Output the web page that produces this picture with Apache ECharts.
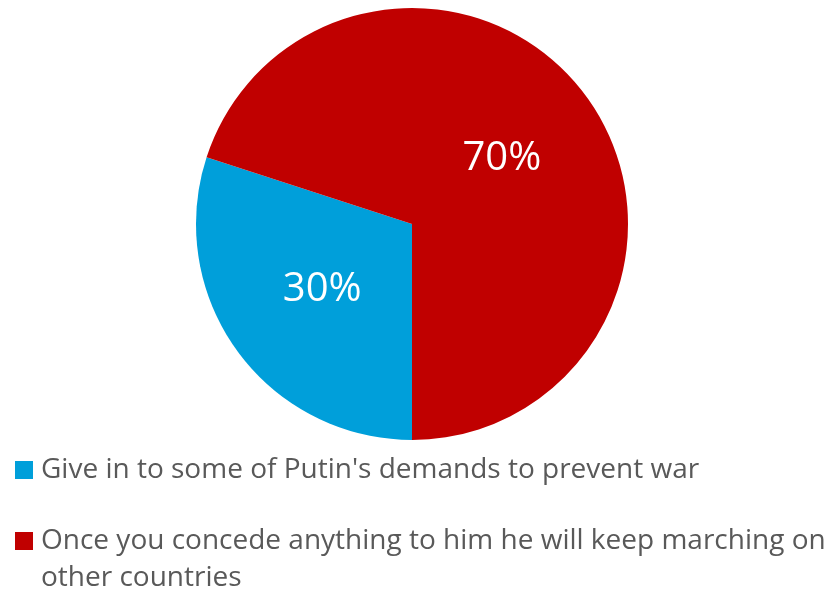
<!DOCTYPE html>
<html><head><meta charset="utf-8">
<script src="https://cdn.jsdelivr.net/npm/echarts@6/dist/echarts.min.js"></script>
<style>html,body{margin:0;padding:0;background:#fff}#c{width:830px;height:592px}</style>
</head><body><div id="c"></div>
<script>
const categories = ["Give in to some of Putin's demands to prevent war", "Once you concede anything to him he will keep marching on other countries"];
const values = [30, 70];
const colors = ['#009FDA', '#C00000'];

const chart = echarts.init(document.getElementById('c'), null, {renderer: 'canvas'});
const legendText = {fontFamily: 'Open Sans', fontSize: 28, color: '#595959', lineHeight: 37, padding: [0, 0, 0, 3]};
chart.setOption({
  animation: false,
  color: colors,
  legend: [
    {data: [categories[0]], orient: 'vertical', left: 15, top: 451.5, padding: 0,
     icon: 'rect', itemWidth: 18, itemHeight: 18, itemGap: 0, textStyle: legendText, selectedMode: false},
    {data: [categories[1]], orient: 'vertical', left: 15, top: 485.5, padding: 0,
     icon: 'rect', itemWidth: 18, itemHeight: 18, itemGap: 0, selectedMode: false,
     formatter: n => '\n' + n.replace(' marching on ', ' marching on\n'),
     textStyle: legendText}
  ],
  series: [{
    type: 'pie',
    center: [412, 224],
    radius: 216,
    startAngle: 270,
    clockwise: true,
    silent: true,
    label: {show: true, position: 'inside', formatter: '{c}%', color: '#fff', fontFamily: 'Open Sans', fontSize: 40},
    labelLine: {show: false},
    itemStyle: {borderWidth: 0},
    data: categories.map((c, i) => ({name: c, value: values[i]}))
  }]
});
</script></body></html>
